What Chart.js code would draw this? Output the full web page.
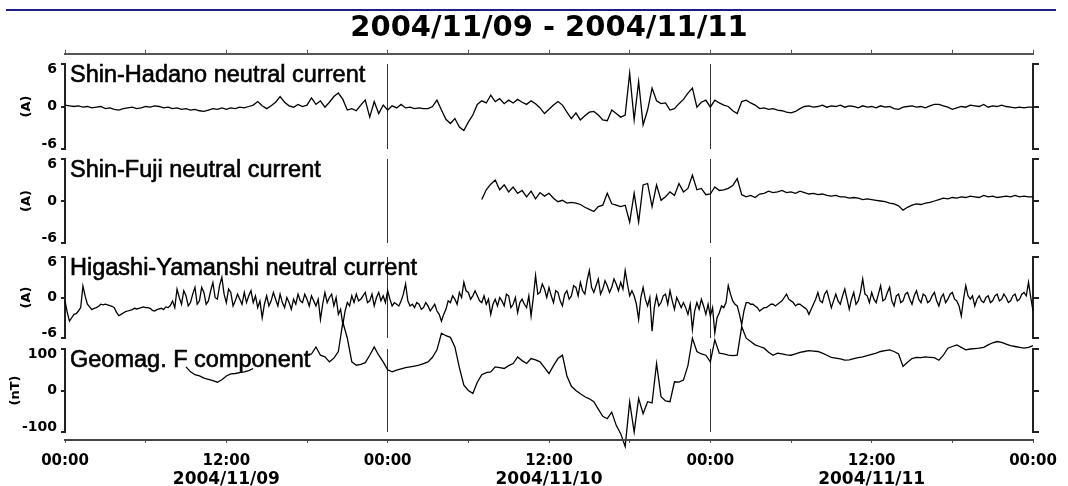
<!DOCTYPE html>
<html>
<head>
<meta charset="utf-8">
<title>2004/11/09 - 2004/11/11</title>
<script src="https://cdn.jsdelivr.net/npm/chart.js@4.4.1/dist/chart.umd.min.js"></script>
<style>
  html, body { margin: 0; padding: 0; background: #fff; }
  #page { position: relative; width: 1068px; height: 486px; overflow: hidden; background: #fff; }
  #page canvas { position: absolute; left: 0; }
  #rule { position: absolute; left: 6px; top: 9px; width: 1050px; height: 2px; background: #1c1c8a; }
</style>
</head>
<body>
<div id="page"><div id="rule"></div></div>
<script>
// Values; x is hours since 2004/11/09 00:00
const TITLE = '2004/11/09 - 2004/11/11';

// 20-minute samples
const hadanoStart = 0;
const hadanoStep = 1 / 3;
const hadano = [
  0.2, 0.1, 0.0, 0.1, -0.1, 0.0,
  -0.2, -0.1, 0.0, -0.3, -0.2, -0.4,
  -0.5, -0.3, -0.2, -0.1, -0.3, -0.2,
  0.0, -0.1, 0.1, 0.0, -0.2, -0.1,
  -0.3, -0.2, -0.4, -0.3, -0.5, -0.4,
  -0.6, -0.7, -0.5, -0.3, -0.4, -0.2,
  -0.4, -0.2, -0.3, -0.1, -0.2, 0.0,
  0.2, 0.7, 0.1, -0.3, 0.1, 0.6,
  1.4, 0.6, 0.1, -0.1, 0.3, 0.0,
  0.2, 1.2, 0.3, 0.8, -0.1, 0.6,
  1.4, 1.9, 1.0, -0.5, -0.3, -0.6,
  0.2, 0.9, -1.5, 0.7, -1.0, 0.2,
  -0.5, 0.1, -0.2, 0.3, -0.2, -0.1,
  -0.3, -0.2, -0.3, -0.3, 0.0, 0.9,
  -0.5, -1.8, -2.4, -1.7, -2.9, -3.4,
  -2.2, -1.2, 0.3, 0.8, 0.5, 1.6,
  0.7, 1.1, 0.4, 0.9, 0.5, 1.0,
  0.6, 0.3, 0.8, 0.4, -0.2, -1.0,
  -0.4, 0.2, 0.7, 0.2, -0.8, -1.7,
  -0.9, -1.9, -1.3, -0.8, -0.7, -1.2,
  -1.9, -2.0, -0.5, -1.0, -1.5, -1.2,
  4.7, -1.9, 3.5, -2.6, -0.5, 2.6,
  0.8, 0.4, 0.5, -0.5, -0.3, 0.4,
  1.0, 1.9, 2.6, -0.1, 0.6, 0.9,
  -0.1, 0.9, 0.5, 0.2, 0.0, -0.6,
  -1.0, 0.7, 0.9, 0.5, 0.2, -0.3,
  -0.2, -0.4, -0.3, -0.5, -0.6, -0.8,
  -0.9, -0.7, -0.3, 0.0, 0.1, -0.1,
  0.0, 0.2, -0.1, 0.1, 0.0, 0.2,
  -0.1, 0.1, 0.0, -0.2, 0.1, -0.1,
  0.0, -0.2, 0.1, -0.1, 0.0, -0.3,
  -0.4, -0.1, 0.0, 0.1, -0.1, 0.0,
  -0.2, 0.1, 0.3, 0.3, 0.1, -0.1,
  -0.4, -0.2, 0.0, -0.1, 0.2, 0.1,
  0.0, 0.3, -0.1, 0.1, 0.0, 0.2,
  0.0, -0.1, -0.2, -0.1, -0.2, -0.1,
  -0.1
];

// 20-minute samples, recording starts mid-morning on 11/10
const fujiStart = 31;
const fujiStep = 1 / 3;
const fuji = [
  0.2, 1.6, 2.4, 3.0, 1.6, 2.3,
  1.3, 2.0, 1.1, 1.5, 0.6, 1.4,
  0.3, 1.2, 0.7, 1.1, 0.4, -0.1,
  0.1, -0.3, -0.2, -0.3, -0.5, -0.9,
  -1.2, -1.5, -0.8, -0.6, 1.1, -0.4,
  -0.6, -0.8, -0.6, -3.0, 1.1, -3.0,
  2.3, 2.5, -0.8, 2.3, 0.1, 0.6,
  1.3, 0.8, 2.5, 1.3, 1.8, 3.7,
  1.6, 1.8, 0.9, 1.0, 2.0, 1.5,
  1.6, 1.8, 2.2, 3.2, 0.9, 0.6,
  0.8, 0.5, 1.0, 1.1, 1.4, 1.2,
  1.3, 1.5, 1.2, 1.3, 1.1, 1.4,
  1.2, 1.0, 1.1, 0.9, 1.0, 0.8,
  0.7, 0.8, 0.6, 0.6, 0.4, 0.5,
  0.4, 0.2, 0.3, 0.2, 0.1, 0.0,
  -0.1, -0.3, -0.4, -0.7, -1.3, -0.9,
  -0.6, -0.4, -0.5, -0.3, -0.2, 0.0,
  0.2, 0.4, 0.3, 0.5, 0.4, 0.6,
  0.5, 0.7, 0.6, 0.5, 0.8, 0.6,
  0.7, 0.5, 0.6, 0.7, 0.6, 0.8,
  0.6, 0.7, 0.6,
  0.6
];

// 10-minute samples (noisy trace)
const higashiStart = 0;
const higashiStep = 1 / 6;
const higashi = [
  -0.5, -2.2, -3.5, -3.0, -2.5, -2.4, -2.0, -1.5, 1.7, 0.2, -1.0, -1.4,
  -1.8, -1.6, -1.5, -1.3, -1.0, -1.1, -1.0, -1.1, -1.2, -1.3, -1.5, -2.2,
  -2.7, -2.5, -2.3, -2.1, -2.0, -1.9, -1.8, -1.6, -1.7, -1.6, -1.5, -1.4,
  -1.5, -1.5, -1.6, -1.9, -2.0, -1.8, -1.7, -1.6, -1.8, -1.4, -1.5, -1.2,
  -0.5, -1.5, 1.25, 0.0, -1.0, 1.0, 0.25, -1.25, -0.75, 0.5, 1.5, -1.0,
  -0.5, 1.5, 0.75, -1.0, -0.5, 1.0, 2.2, 0.0, -0.25, 1.8, 3.0, 0.5,
  -0.75, 1.25, 0.75, -1.25, -0.5, 0.5, -0.25, -1.0, 0.75, -0.75, 0.25, 1.0,
  -0.75, 0.25, -1.5, -0.5, -3.0, -1.0, 0.25, -1.25, -0.5, 0.75, -0.25, -1.25,
  0.5, -0.75, -1.5, 0.0, -0.75, -1.75, -0.25, -1.0, 0.5, -0.5, -0.75, 0.5,
  -0.25, -1.25, 0.25, -0.5, -1.25, -0.25, -3.25, -1.0, 0.75, -0.75, 0.0, 0.5,
  -1.25, 0.0, -2.5, -1.75, -4.0, -2.0, -0.75, -1.25, 0.25, -0.75, 0.5, -0.5,
  -0.25, 0.25, 0.75, -0.75, -0.5, 0.5, -1.25, 0.0, 0.75, -0.5, 0.25, -0.75,
  1.0, -0.25, -1.25, -0.75, -1.0, -1.25, -0.5, 0.5, 2.0, -0.5, -1.25, -1.0,
  -1.5, -0.75, -1.0, -1.75, -1.5, -0.75, -1.25, -2.0, -1.5, -1.0, -2.0, -2.5,
  -3.5, -2.5, -1.75, -0.5, -0.75, 0.25, -0.25, -1.0, 0.75, 0.0, 2.25, 1.0,
  0.75, -0.25, 0.25, 1.0, 0.25, -0.5, -0.75, 0.25, -1.0, -0.25, -2.5, -1.0,
  -0.25, -1.25, 0.0, -0.5, -1.25, 0.5, 0.25, -1.5, -1.0, 0.0, -2.25, -0.75,
  -0.25, -1.0, -1.5, 0.25, -2.75, 0.0, 3.25, 0.5, 0.75, 2.0, 1.25, 0.0,
  1.5, 0.25, -0.75, 1.0, 0.75, -0.5, -1.25, 0.5, 1.0, -0.25, 0.25, 1.75,
  1.5, 0.25, 2.25, 1.0, 0.5, 2.5, 4.0, 1.5, 0.75, 1.75, 2.75, 0.5,
  1.25, 2.5, 1.75, 0.75, 1.5, 2.75, 2.0, 1.0, 2.25, 1.25, 4.0, 2.0,
  0.25, 1.0, 0.25, -1.0, -3.25, 0.0, 1.5, -0.25, -1.25, 0.0, -5.0, -1.5,
  0.25, -1.25, -0.75, 0.25, 0.5, -1.0, 1.0, -0.5, -1.75, 0.0, -0.75, -1.5,
  -0.75, -1.5, -2.5, -1.0, -4.75, -2.0, -0.75, -1.75, -0.25, -1.25, -2.5, -1.0,
  -2.75, -1.5, -5.25, -3.0, -2.25, -1.25, -1.5, -0.75, 1.75, 0.5, -0.5, -1.0,
  -1.25, -2.5, -4.0, -2.0, -0.75, -0.75, -1.0, -1.0, -1.25, -1.5, -2.0, -1.75,
  -1.5, -1.5, -1.25, -1.0, -1.0, -1.25, -1.0, -0.75, -0.5, 0.0, 0.5, -0.25,
  -0.5, -0.75, -1.25, -1.0, -1.0, -1.25, -1.5, -1.75, -2.5, -1.75, -1.0, -0.25,
  0.75, -0.5, -0.75, 0.5, 1.0, -0.25, -1.5, -0.5, 0.5, -0.5, -1.0, 0.25,
  1.25, -0.25, -1.75, -0.25, 0.75, -1.0, -0.5, 0.75, 2.75, 0.5, 0.25, -0.75,
  0.75, -0.25, -0.75, 0.5, 1.75, -0.5, -0.25, 0.75, 1.5, -0.5, -1.25, 0.25,
  0.5, -0.75, -0.5, 0.5, 0.75, -0.25, -1.0, 0.25, 1.0, -0.25, -0.75, 0.5,
  0.25, -0.75, -0.5, 0.25, 0.75, -0.5, -1.25, 0.0, 0.5, -0.75, -0.25, 0.5,
  0.75, -0.25, -0.5, -1.25, -2.75, -0.25, 1.75, 0.25, -0.25, 0.25, -1.25, -0.25,
  0.25, -0.5, -0.75, 0.0, 0.25, -0.75, -0.5, 0.25, 0.5, -0.5, -0.25, 0.5,
  0.0, -0.75, -0.5, 0.25, 0.5, -0.5, -0.25, 0.5, 0.75, 0.25, 2.25, 0.0,
  -2.0
];

// geomagnetic F, 20-minute samples, two recorded stretches
const geoStep = 1 / 3;
const geoStartA = 9;
const geoA = [57, 45, 38, 35, 30, 27, 24, 20, 26, 35, 40, 41, 43, 45, 48, 53];

const geoStartB = 18;
const geoB = [
  85, 88, 105, 85, 81, 69,
  78, 94, 165, 126, 69, 61,
  63, 67, 85, 105, 85, 69,
  50, 45, 49, 52, 55, 57,
  59, 61, 65, 69, 80, 98,
  138, 132, 128, 105, 55, 13,
  0, -7, 20, 38, 43, 45,
  57, 55, 53, 60, 65, 81,
  72, 65, 77, 74, 69, 55,
  41, 60, 77, 85, 35, 10,
  0, -8, -15, -20, -27, -45,
  -62, -68, -52, -84, -104, -135,
  -27, -100, -19, -56, -27, -30,
  65, -15, -25, -27, 21, 20,
  25, 60, 126, 94, 88, 85,
  69, 122, 90, 88, 85, 84,
  85, 154, 126, 118, 110, 106,
  102, 92, 85, 90, 88, 86,
  85, 88, 92, 94, 96, 95,
  94, 90, 85, 80, 78, 76,
  73, 74, 77, 79, 81, 84,
  87, 90, 94, 96, 98, 94,
  88, 58, 68, 77, 80, 79,
  81, 80, 79, 73, 85, 102,
  106, 110, 104, 98, 100, 101,
  102, 104, 110, 115, 118, 116,
  112, 108, 106, 104, 102, 104,
  108
];

const hourTicks = [0, 6, 12, 18, 24, 30, 36, 42, 48, 54, 60, 66, 72];
const timeLabels = ['00:00', '', '12:00', '', '00:00', '', '12:00', '', '00:00', '', '12:00', '', '00:00'];
const dateLabels = ['', '', '2004/11/09', '', '', '', '2004/11/10', '', '', '', '2004/11/11', '', ''];
const dayLines = [24, 48];
const ampTicks = [-6, 0, 6];
const nTTicks = [-100, 0, 100];

// layout (page pixels)
const W = 1068;
const PLOT_L = 65;
const PLOT_R = 1033;
const PAD = 40;

Chart.defaults.font.family = '"DejaVu Sans", Verdana, sans-serif';
Chart.defaults.color = '#000';

function points(start, step, values) {
  return values.map((v, i) => ({ x: start + i * step, y: v }));
}

function addCanvas(top, height) {
  const c = document.createElement('canvas');
  c.width = W;
  c.height = height;
  c.style.top = top + 'px';
  document.getElementById('page').appendChild(c);
  return c;
}

const setTicks = vals => scale => { scale.ticks = vals.map(v => ({ value: v })); };

// panel caption drawn inside the plot area, under the trace
const panelLabel = {
  id: 'panelLabel',
  beforeDatasetsDraw(chart, args, opts) {
    const { ctx, chartArea } = chart;
    const x = chartArea.left + 5;
    const y = chartArea.top + 18;
    ctx.save();
    ctx.font = '23.5px "Liberation Sans", Arial, sans-serif';
    ctx.fillStyle = '#000';
    ctx.strokeStyle = '#000';
    ctx.lineWidth = 0.6;
    ctx.textBaseline = 'alphabetic';
    ctx.fillText(opts.text, x, y);
    ctx.strokeText(opts.text, x, y);
    ctx.restore();
  }
};

// title + top time axis
new Chart(addCanvas(0, 60), {
  type: 'line',
  data: { datasets: [] },
  options: {
    responsive: false,
    animation: false,
    events: [],
    layout: { padding: { left: PLOT_L, right: W - PLOT_R, top: 0, bottom: 0 } },
    plugins: {
      legend: { display: false },
      tooltip: { enabled: false },
      title: {
        display: true,
        text: TITLE,
        color: '#000',
        font: { size: 29, weight: 'bold' },
        padding: { top: 11, bottom: 4 }
      }
    },
    scales: {
      x: {
        type: 'linear', position: 'top', min: 0, max: 72,
        afterBuildTicks: setTicks(hourTicks),
        afterFit: s => { s.height = 4; },
        ticks: { display: false },
        grid: { drawOnChartArea: false, tickLength: 4, color: '#555', lineWidth: 1 },
        border: { width: 2, color: '#555' }
      },
      y: { display: false }
    }
  }
});

function panel(p) {
  const canvas = addCanvas(p.top - PAD, p.height + 2 * PAD);
  const lim = { min: p.ticks[0], max: p.ticks[p.ticks.length - 1] };
  return new Chart(canvas, {
    type: 'line',
    data: {
      datasets: p.series.map(s => ({
        data: points(s.start, s.step, s.values),
        borderColor: '#000',
        borderWidth: 1.3,
        pointRadius: 0,
        clip: false
      }))
    },
    options: {
      responsive: false,
      animation: false,
      events: [],
      layout: { padding: { left: 0, right: W - PLOT_R - 6, top: PAD, bottom: PAD } },
      plugins: {
        legend: { display: false },
        tooltip: { enabled: false },
        panelLabel: { text: p.label }
      },
      scales: {
        x: {
          type: 'linear', min: 0, max: 72,
          afterBuildTicks: setTicks(dayLines),
          afterFit: s => { s.height = 0; },
          ticks: { display: false },
          border: { display: false },
          grid: { drawTicks: false, color: '#333', lineWidth: 1 }
        },
        y: {
          type: 'linear', position: 'left', ...lim,
          afterBuildTicks: setTicks(p.ticks),
          afterFit: s => { s.width = PLOT_L; },
          ticks: {
            padding: 4,
            font: { size: 14, weight: 'bold', lineHeight: 0.7 },
            // end labels sit just inside the bracket, as in the original
            callback: (v, i, arr) => i === 0 ? [String(v), ''] : (i === arr.length - 1 ? ['', String(v)] : String(v))
          },
          grid: { drawOnChartArea: false, tickLength: 4, lineWidth: 2, color: '#222' },
          border: { width: 2, color: '#222' },
          title: {
            display: true,
            text: p.unit,
            font: { size: 13, weight: 'bold' },
            padding: { top: p.unitPad, bottom: 0 }
          }
        },
        y2: {
          type: 'linear', position: 'right', ...lim,
          afterBuildTicks: setTicks(p.ticks),
          afterFit: s => { s.width = 6; },
          ticks: { display: false },
          grid: { drawOnChartArea: false, tickLength: 6, lineWidth: 2, color: '#222' },
          border: { width: 2, color: '#222' }
        }
      }
    },
    plugins: [panelLabel]
  });
}

panel({ top: 64, height: 85, label: 'Shin-Hadano neutral current', unit: '(A)', unitPad: 19,
        ticks: ampTicks, series: [{ start: hadanoStart, step: hadanoStep, values: hadano }] });
panel({ top: 159, height: 84, label: 'Shin-Fuji neutral current', unit: '(A)', unitPad: 19,
        ticks: ampTicks, series: [{ start: fujiStart, step: fujiStep, values: fuji }] });
panel({ top: 257, height: 81, label: 'Higashi-Yamanshi neutral current', unit: '(A)', unitPad: 19,
        ticks: ampTicks, series: [{ start: higashiStart, step: higashiStep, values: higashi }] });
panel({ top: 349, height: 83, label: 'Geomag. F component', unit: '(nT)', unitPad: 8,
        ticks: nTTicks, series: [{ start: geoStartA, step: geoStep, values: geoA },
                                 { start: geoStartB, step: geoStep, values: geoB }] });

// bottom time axis with date row
new Chart(addCanvas(420, 66), {
  type: 'line',
  data: { datasets: [] },
  options: {
    responsive: false,
    animation: false,
    events: [],
    layout: { padding: { left: PLOT_L, right: W - PLOT_R, top: 0, bottom: 0 } },
    plugins: { legend: { display: false }, tooltip: { enabled: false } },
    scales: {
      x: {
        type: 'linear', position: 'bottom', weight: 0, min: 0, max: 72,
        afterBuildTicks: setTicks(hourTicks),
        afterFit: s => { s.height = 26; },
        ticks: {
          autoSkip: false, maxRotation: 0, minRotation: 0, padding: 9,
          font: { size: 15, weight: 'bold' },
          callback: (v, i) => timeLabels[i]
        },
        grid: { drawOnChartArea: false, tickLength: 3, color: '#555', lineWidth: 1 },
        border: { width: 2, color: '#444' }
      },
      date: {
        type: 'linear', position: 'bottom', weight: 1, min: 0, max: 72,
        afterBuildTicks: setTicks(hourTicks),
        afterFit: s => { s.height = 20; },
        ticks: {
          autoSkip: false, maxRotation: 0, minRotation: 0, padding: 3,
          font: { size: 17, weight: 'bold' },
          callback: (v, i) => dateLabels[i]
        },
        grid: { display: false, drawTicks: false },
        border: { display: false }
      },
      y: { display: false }
    }
  }
});
</script>
</body>
</html>
